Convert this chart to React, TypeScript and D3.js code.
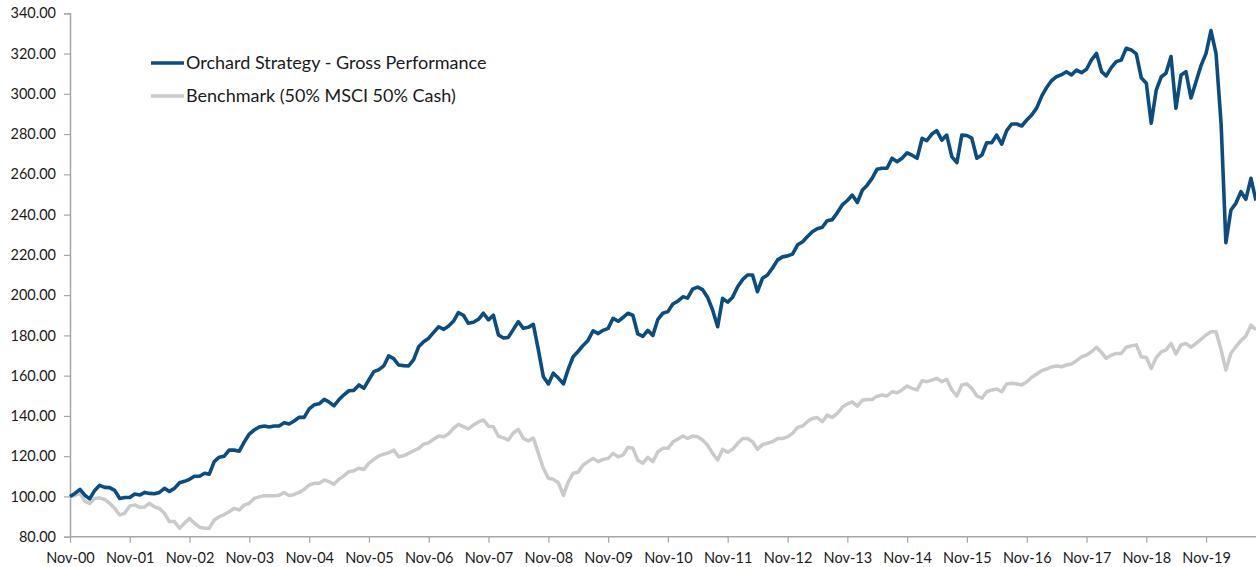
import * as d3 from 'd3';
import React, { useEffect, useRef } from 'react';

// monthly index values from Nov-00
const orchard = [
  100, 101.5, 103.5, 100.5, 98.8, 103, 105.5, 104.5, 104.4, 103, 99, 99.5,
  99.5, 101.2, 100.7, 102, 101.5, 101.3, 102, 104, 102.5, 104, 106.8, 107.5,
  108.5, 110, 110, 111.5, 111, 117.3, 119.5, 120, 123, 123, 122.5, 127,
  131, 133, 134.5, 135, 134.5, 135, 135, 136.6, 136, 137.5, 139.3, 139.3,
  143.5, 145.5, 146, 148.2, 147, 145, 148, 150.5, 152.5, 152.7, 155.4, 153.7,
  158, 162, 163, 165, 169.8, 168.5, 165.3, 165, 164.8, 168, 174.4, 176.9,
  178.6, 181.5, 184.3, 183, 184.5, 187, 191.3, 190, 186, 186.5, 188, 191,
  187.7, 190, 180.2, 178.7, 179, 183, 186.8, 183.5, 184, 185.5, 172.7, 159.5,
  155.9, 161.2, 158.8, 155.9, 163, 169.4, 172, 175, 177.5, 182.3, 180.9, 182.5,
  183.5, 188.5, 187, 189, 191, 190, 180.7, 179.5, 182.5, 180, 188, 191,
  191.8, 195.6, 197, 199.2, 198.5, 203, 204, 202.7, 199, 192.6, 184.3, 198.4,
  196.5, 199, 204.2, 207.8, 210, 210, 201.7, 208.4, 210, 213.5, 217.5, 219,
  219.5, 220.4, 225, 226.5, 229, 231.5, 233, 233.7, 237, 237.5, 241, 244.8,
  247, 249.7, 246, 252.2, 254.5, 258, 262.5, 263, 263, 268, 266.3, 268,
  270.7, 269.5, 268, 277.9, 276.7, 280, 281.7, 277, 279.5, 268.8, 265.8, 279.5,
  279.3, 278, 268, 269.6, 275.7, 275.7, 279.5, 275, 281.7, 285, 285, 284,
  287, 289.5, 293, 299, 303, 306.5, 308.5, 309.5, 311, 309.4, 311.8, 310.5,
  312.2, 316.9, 320.1, 311, 308.9, 313, 316, 316.8, 322.6, 321.8, 319.8, 308,
  305.3, 285.4, 302, 308.5, 310.2, 318.5, 292.8, 309.4, 311, 297.9, 306.1, 314,
  320.1, 331.4, 320, 285, 226, 242.3, 245.6, 251.4, 247.6, 258, 247,
];

const benchmark = [
  100, 100.5, 101.5, 97.5, 96.5, 99, 99.3, 98.5, 96.6, 94.1, 90.8, 91.6,
  95.3, 95.8, 94.6, 94.8, 96.6, 94.8, 94, 91.6, 87.5, 87.5, 84.2, 86.7,
  89.1, 86.7, 84.7, 84.2, 84.2, 88.3, 89.9, 91, 92.4, 94.1, 93.3, 95.7,
  96.6, 99, 99.8, 100.4, 100.4, 100.4, 100.6, 101.9, 100.4, 101, 102, 103.5,
  105.7, 106.5, 106.5, 108.2, 107.4, 106, 108.5, 110.2, 112.3, 112.8, 114, 113.4,
  116.5, 118.4, 120.1, 121, 121.7, 123, 119.7, 120.2, 121.4, 122.7, 123.9, 126,
  126.7, 128.4, 130, 129.7, 131, 133.8, 135.8, 134.7, 133.5, 135.5, 137, 138,
  134.9, 134.6, 129.9, 129.1, 128, 131.5, 133.3, 128.8, 127.6, 129, 121.4, 114,
  109, 108.5, 106.8, 100.5, 107, 111.5, 112, 115.6, 117.3, 118.9, 117.3, 118.4,
  118.9, 121.4, 119.7, 120.6, 124.4, 123.9, 118, 116.5, 119.4, 117.3, 122.2, 123.9,
  123.9, 127, 128.5, 130, 128.8, 130, 129.6, 128, 125.5, 121.4, 118.1, 123.4,
  122, 123.4, 126.4, 128.8, 128.8, 127.2, 123.4, 125.8, 126.4, 127.2, 128.8, 128.8,
  129.6, 131.3, 134.3, 135, 137.1, 138.7, 139.2, 137.1, 140.4, 139.2, 141.3, 144.3,
  146, 147, 144.9, 147.8, 148.1, 148.1, 149.8, 150.4, 149.9, 152, 151.5, 152.9,
  154.9, 153.7, 152.9, 157.5, 157, 157.8, 158.7, 157, 158.2, 152.9, 149.9, 155.4,
  155.9, 153.7, 149.9, 148.8, 152, 152.9, 153.4, 152, 155.9, 156.2, 155.9, 155.4,
  157, 159.2, 160.8, 162.5, 163.3, 164.3, 164.8, 164.4, 165.3, 165.8, 167.4, 169.4,
  170.2, 171.9, 174.1, 171.4, 168.6, 170.2, 171, 171, 174.1, 174.8, 175.3, 169.4,
  169, 163.6, 169, 171.9, 172.7, 176, 170.8, 175.3, 176, 174.1, 176, 178,
  180.2, 181.8, 181.8, 172.7, 162.8, 171.1, 174.4, 177.4, 179.7, 185.1, 182.8,
];

const seriesNames = ['Orchard Strategy - Gross Performance', 'Benchmark (50% MSCI 50% Cash)'];
const yTicks = [80, 100, 120, 140, 160, 180, 200, 220, 240, 260, 280, 300, 320, 340];

const W = 1256;
const H = 567;
const FONT = 'Lato, "Open Sans", sans-serif';

const App = () => {
  const ref = useRef<SVGSVGElement | null>(null);

  useEffect(() => {
    const svg = d3.select(ref.current);
    svg.selectAll('*').remove();

    const start = new Date(2000, 10, 1);
    const dates = orchard.map((_, i) => d3.timeMonth.offset(start, i));

    const x = d3.scaleTime()
      .domain([dates[0], dates[dates.length - 1]])
      .range([70, W]);
    const y = d3.scaleLinear().domain([80, 340]).range([536.7, 13.3]);

    const axisColor = '#a6a6a6';

    // y axis
    const yAxis = svg.append('g').attr('transform', 'translate(70,0)')
      .call(d3.axisLeft(y).tickValues(yTicks).tickSize(6).tickPadding(8)
        .tickFormat(d => d3.format('.2f')(d as number)));
    yAxis.select('.domain').attr('stroke', axisColor).attr('stroke-width', 1.5);
    yAxis.selectAll('.tick line').attr('stroke', axisColor).attr('stroke-width', 1.2);
    yAxis.selectAll('.tick text')
      .attr('font-family', FONT).attr('font-size', 14.5).attr('fill', '#1a1a1a');

    // x axis
    const xTicks = dates.filter((_, i) => i % 12 === 0);
    const xAxis = svg.append('g').attr('transform', 'translate(0,536.7)')
      .call(d3.axisBottom(x).tickValues(xTicks).tickSize(6).tickPadding(10)
        .tickFormat(d => d3.timeFormat('%b-%y')(d as Date)));
    xAxis.select('.domain').attr('stroke', axisColor).attr('stroke-width', 1.5)
      .attr('d', `M70,0H${W}`);
    xAxis.selectAll('.tick line').attr('stroke', axisColor).attr('stroke-width', 1.2);
    xAxis.selectAll('.tick text')
      .attr('font-family', FONT).attr('font-size', 14.5).attr('fill', '#1a1a1a');

    const line = d3.line<number>()
      .x((_, i) => x(dates[i]))
      .y(d => y(d));

    svg.append('path').datum(benchmark)
      .attr('fill', 'none').attr('stroke', '#cacaca').attr('stroke-width', 3.5)
      .attr('stroke-linejoin', 'round').attr('d', line);
    svg.append('path').datum(orchard)
      .attr('fill', 'none').attr('stroke', '#0b4d80').attr('stroke-width', 3.6)
      .attr('stroke-linejoin', 'round').attr('d', line);

    // legend
    const legend = svg.append('g').attr('transform', 'translate(151,63)');
    const colors = ['#0b4d80', '#cacaca'];
    seriesNames.forEach((name, i) => {
      const g = legend.append('g').attr('transform', `translate(0,${i * 33})`);
      g.append('line').attr('x1', 0).attr('x2', 33).attr('y1', 0).attr('y2', 0)
        .attr('stroke', colors[i]).attr('stroke-width', 3.5);
      g.append('text').attr('x', 35).attr('y', 0).attr('dy', '0.35em')
        .attr('font-family', FONT).attr('font-size', 18).attr('fill', '#1a1a1a')
        .text(name);
    });
  }, []);

  return (
    <svg ref={ref} width={W} height={H}
      style={{ position: 'absolute', left: 0, top: 0, background: '#fff' }} />
  );
};

export default App;
